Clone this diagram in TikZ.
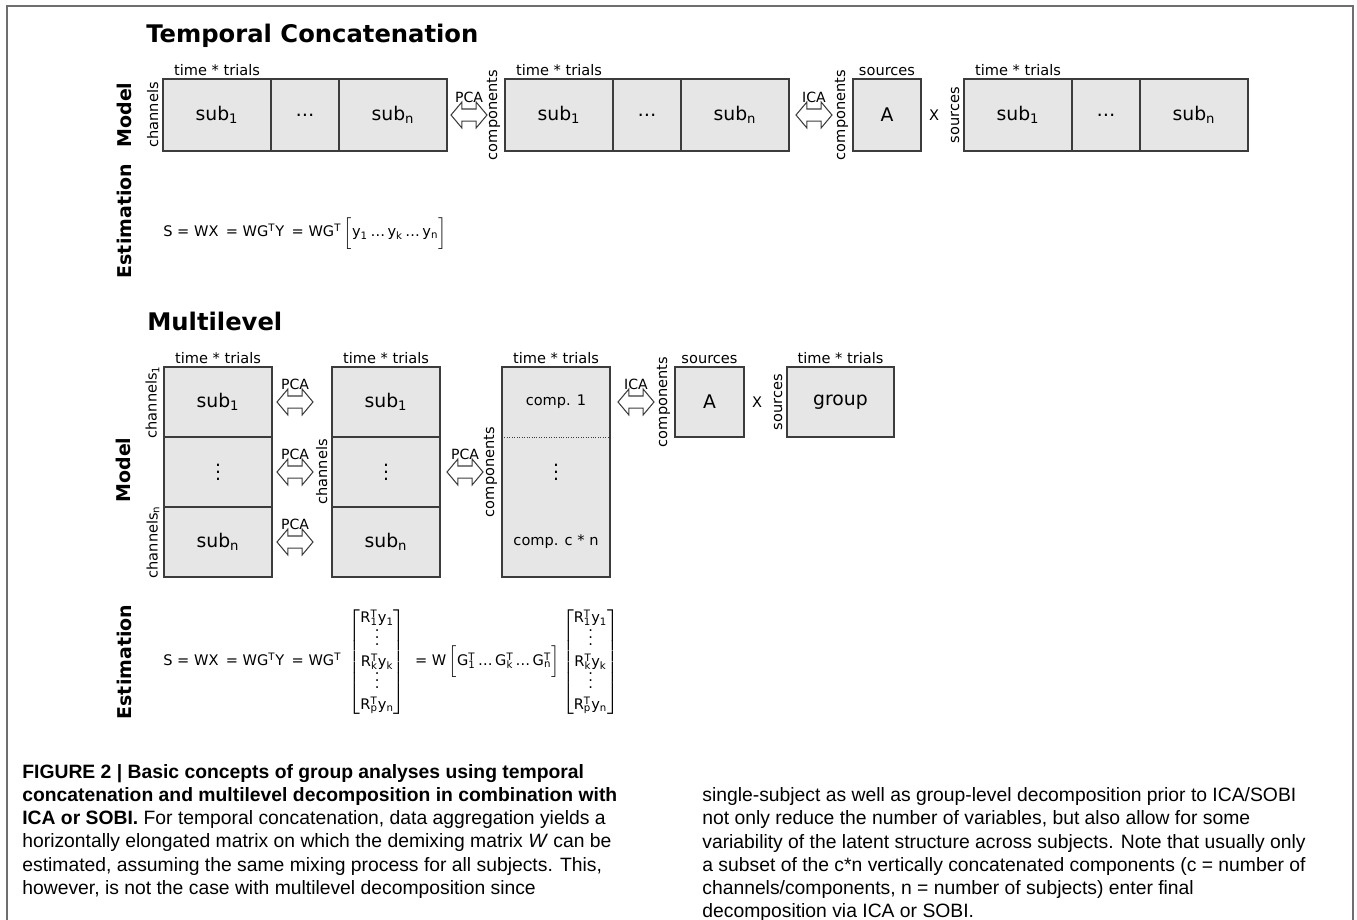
\documentclass[tikz,border=0pt]{standalone}
\usepackage{fontspec}
\setmainfont{DejaVu Sans}
\newfontfamily\capfont{Liberation Sans}
\usetikzlibrary{positioning}
\usetikzlibrary{shapes.arrows}
\newlength\px
\setlength\px{0.02cm}
\definecolor{cellgray}{RGB}{230,230,230}
\definecolor{boxgray}{RGB}{60,60,60}
\definecolor{framegray}{RGB}{110,110,110}
\newcommand{\sbt}[1]{\rlap{\textsuperscript{T}}\textsubscript{#1}}
\newcommand{\vdd}{\vbox{\baselineskip4pt\lineskiplimit0pt\hbox{.}\hbox{.}\hbox{.}}}
\newcommand{\rmat}{$\left[\mbox{\renewcommand{\arraystretch}{1.2}\begin{tabular}{@{}c@{}}R\sbt{1}y\textsubscript{1}\\ \vdd\\ R\sbt{k}y\textsubscript{k}\\ \vdd\\ R\sbt{p}y\textsubscript{n}\end{tabular}}\right]$}

\begin{document}
\begin{tikzpicture}[x=0.02cm,y=-0.02cm,node distance=0pt,
    cell/.style={rectangle,draw=boxgray,fill=cellgray,line width=0.6pt,inner sep=0pt,outer sep=0pt,
      minimum height=72\px,font=\fontsize{10.7}{12.8}\selectfont},
    wide/.style={cell,minimum width=108\px},
    slim/.style={cell,minimum width=68\px},
    mcell/.style={cell,minimum width=108\px,minimum height=70\px},
    bare/.style={mcell,draw=none},
    toplbl/.style={font=\fontsize{8.3}{10}\selectfont,inner sep=1.5pt},
    sidelbl/.style={toplbl,rotate=90,anchor=south,inner sep=2.5pt},
    rowlbl/.style={rotate=90,font=\bfseries\fontsize{10.8}{13}\selectfont},
    heading/.style={anchor=base west,inner sep=0pt,font=\bfseries\fontsize{13.8}{16}\selectfont},
    formula/.style={anchor=west,inner sep=0pt,font=\fontsize{8.3}{10}\selectfont},
    darrow/.style={double arrow,draw=boxgray,fill=white,line width=0.6pt,minimum height=36\px,
      inner sep=0pt,inner ysep=5.5\px,double arrow head extend=7\px,double arrow tip angle=100},
    arrlbl/.style={font=\fontsize{8}{9.6}\selectfont,inner sep=0.5pt},
    capt/.style={anchor=north west,inner sep=0pt,align=left,font=\capfont\fontsize{11}{13.2}\selectfont}]
    \useasboundingbox (0,0) rectangle (1357,920);
    \draw[framegray,line width=2\px] (7,930) -- (7,6) -- (1353,6) -- (1353,930);

    \node[heading] (tc)   at (146,42)  {Temporal Concatenation};
    \node[rowlbl]  (tmod) at (124,115) {Model};
    \node[rowlbl]  (test) at (124,221) {Estimation};

    \node[wide]            (t1a) at (217,115) {sub\textsubscript{1}};
    \node[slim,right=of t1a] (t1b)           {\ldots};
    \node[wide,right=of t1b] (t1c)           {sub\textsubscript{n}};
    \node[darrow,label={[arrlbl,label distance=5\px]above:PCA}] (pcat) at (469,115) {};
    \node[wide]            (t2a) at (559,115) {sub\textsubscript{1}};
    \node[slim,right=of t2a] (t2b)           {\ldots};
    \node[wide,right=of t2b] (t2c)           {sub\textsubscript{n}};
    \node[darrow,label={[arrlbl,label distance=5\px]above:ICA}] (icat) at (814,115) {};
    \node[slim]            (tA)  at (887,115) {A};
    \node[toplbl]          (tx)  at (934,115) {X};
    \node[wide]            (t3a) at (1018,115) {sub\textsubscript{1}};
    \node[slim,right=of t3a] (t3b)           {\ldots};
    \node[wide,right=of t3b] (t3c)           {sub\textsubscript{n}};

    \node[toplbl,above=of t1a] (t1t) {time * trials};
    \node[toplbl,above=of t2a] (t2t) {time * trials};
    \node[toplbl,above=of tA]  (tAt) {sources};
    \node[toplbl,above=of t3a] (t3t) {time * trials};
    \node[sidelbl] (t1s) at (t1a.west) {channels};
    \node[sidelbl] (t2s) at (t2a.west) {components};
    \node[sidelbl] (tAs) at (tA.west)  {components};
    \node[sidelbl] (t3s) at (t3a.west) {sources};

    \node[formula] (tform) at (163,233) {S = WX\enspace = WG\textsuperscript{T}Y\enspace = WG\textsuperscript{T}\,$\Big[$y\textsubscript{1}\,\ldots\,y\textsubscript{k}\,\ldots\,y\textsubscript{n}$\Big]$};

    \node[heading] (ml)   at (147,330) {Multilevel};
    \node[rowlbl]  (mmod) at (123,470) {Model};
    \node[rowlbl]  (mest) at (124,662) {Estimation};

    \node[mcell]             (m1a) at (218,402) {sub\textsubscript{1}};
    \node[mcell,below=of m1a] (m1b)           {\vdd};
    \node[mcell,below=of m1b] (m1c)           {sub\textsubscript{n}};
    \node[darrow,label={[arrlbl,label distance=5\px]above:PCA}] (pca1) at (295,402) {};
    \node[darrow,label={[arrlbl,label distance=5\px]above:PCA}] (pca2) at (295,472) {};
    \node[darrow,label={[arrlbl,label distance=5\px]above:PCA}] (pca3) at (295,542) {};
    \node[mcell]             (m2a) at (386,402) {sub\textsubscript{1}};
    \node[mcell,below=of m2a] (m2b)           {\vdd};
    \node[mcell,below=of m2b] (m2c)           {sub\textsubscript{n}};
    \node[darrow,label={[arrlbl,label distance=5\px]above:PCA}] (pca4) at (465,472) {};
    \node[bare]              (m3a) at (556,402) {\fontsize{8.3}{10}\selectfont comp. 1};
    \node[bare,below=of m3a]  (m3b)           {\vdd};
    \node[bare,below=of m3b]  (m3c)           {\fontsize{8.3}{10}\selectfont comp. c * n};
    \draw[boxgray,line width=0.6pt] (m3a.north west) rectangle (m3c.south east);
    \draw[boxgray,densely dotted] (m3a.south west) -- (m3a.south east);
    \node[darrow,label={[arrlbl,label distance=5\px]above:ICA}] (ica1) at (636,402) {};
    \node[mcell,minimum width=69\px] (mA) at (709.5,402) {A};
    \node[toplbl]            (mx)  at (757,402) {X};
    \node[mcell,minimum width=107\px] (mG) at (840.5,402) {group};

    \node[toplbl,above=of m1a] (m1t) {time * trials};
    \node[toplbl,above=of m2a] (m2t) {time * trials};
    \node[toplbl,above=of m3a] (m3t) {time * trials};
    \node[toplbl,above=of mA]  (mAt) {sources};
    \node[toplbl,above=of mG]  (mGt) {time * trials};
    \node[sidelbl] (m1s) at (m1a.west) {channels\textsubscript{1}};
    \node[sidelbl] (m1n) at (m1c.west) {channels\textsubscript{n}};
    \node[sidelbl] (m2s) at (m2b.west) {channels};
    \node[sidelbl] (m3s) at (m3b.west) {components};
    \node[sidelbl] (mAs) at (mA.west)  {components};
    \node[sidelbl] (mGs) at (mG.west)  {sources};

    \node[formula] (mform) at (163,662) {S = WX\enspace = WG\textsuperscript{T}Y\enspace = WG\textsuperscript{T}\enspace\rmat\,\, = W\,$\Big[$G\sbt{1}\,\ldots\,G\sbt{k}\,\ldots\,G\sbt{n}$\Big]$\,\rmat};

    \node[capt] (capl) at (22,764) {\textbf{FIGURE 2 | Basic concepts of group analyses using temporal}\\
      \textbf{concatenation and multilevel decomposition in combination with}\\
      \textbf{ICA or SOBI.} For temporal concatenation, data aggregation yields a\\
      horizontally elongated matrix on which the demixing matrix \textit{W} can be\\
      estimated, assuming the same mixing process for all subjects. This,\\
      however, is not the case with multilevel decomposition since};
    \node[capt] (capr) at (702,787.3) {single-subject as well as group-level decomposition prior to ICA/SOBI\\
      not only reduce the number of variables, but also allow for some\\
      variability of the latent structure across subjects. Note that usually only\\
      a subset of the c*n vertically concatenated components (c = number of\\
      channels/components, n = number of subjects) enter final\\
      decomposition via ICA or SOBI.};
\end{tikzpicture}
\end{document}
